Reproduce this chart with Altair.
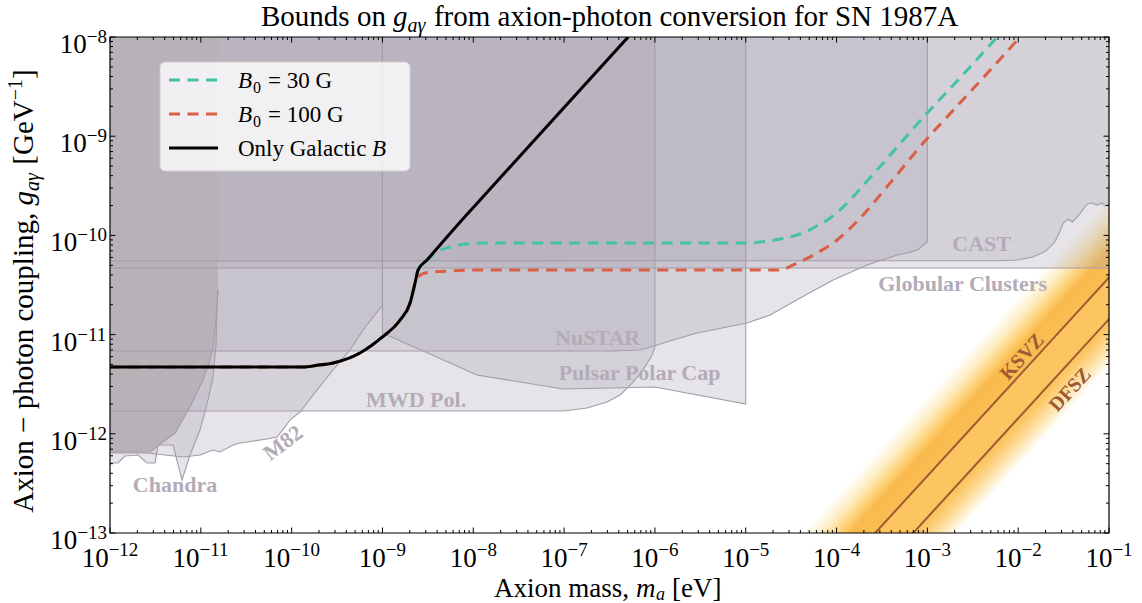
import altair as alt
import numpy as np
import pandas as pd

FONT = "Liberation Serif"
W, H = 999, 496          # plot area (pixels)
OX, OY = 110, 37         # plot-area origin on the canvas

# ---------------------------------------------------------------------------
# SN 1987A conversion limits, stored as log10(m_a / eV) and log10(g / GeV^-1)
gal_lm = [-12.0, -9.874, -9.72, -9.544, -9.247, -9.0, -8.806, -8.696, -8.641, -8.608,
          -8.509, -8.366, -8.222, -7.925, -6.295]
gal_lg = [-11.327, -11.327, -11.31, -11.286, -11.185, -11.024, -10.853, -10.681, -10.480, -10.349,
          -10.248, -10.097, -9.946, -9.643, -8.0]

b30_lm = [-12.0, -9.874, -9.72, -9.544, -9.247, -9.0, -8.806, -8.696, -8.641, -8.608, -8.509,
          -8.399, -8.256, -8.068, -7.925, -4.952, -4.841, -4.621, -4.401, -4.236, -4.070,
          -3.850, -3.663, -3.410, -3.002, -2.672, -2.231]
b30_lg = [-11.327, -11.327, -11.31, -11.286, -11.185, -11.024, -10.853, -10.681, -10.480, -10.349, -10.248,
          -10.167, -10.117, -10.087, -10.077, -10.077, -10.067, -10.036, -9.986, -9.915, -9.825,
          -9.643, -9.452, -9.190, -8.766, -8.444, -8.0]

b100_lm = [-12.0, -9.874, -9.72, -9.544, -9.247, -9.0, -8.806, -8.696, -8.641, -8.597, -8.531,
           -8.443, -8.256, -7.925, -4.621, -4.478, -4.214, -3.993, -3.740, -3.410, -3.046,
           -2.672, -2.308, -1.978]
b100_lg = [-11.327, -11.327, -11.31, -11.286, -11.185, -11.024, -10.853, -10.681, -10.480, -10.409, -10.379,
           -10.369, -10.359, -10.349, -10.349, -10.298, -10.177, -10.046, -9.825, -9.472, -9.069,
           -8.696, -8.333, -8.0]

# ---------------------------------------------------------------------------
# Existing bounds (lower edges of the excluded regions)
regions = {
    "gc": dict(lm=[-12.0, -1.0], lg=[-10.329, -10.329], left=False, right=False),
    "cast": dict(lm=[-12.0, -2.2, -2.011, -1.835, -1.70, -1.60, -1.54, -1.504, -1.449, -1.405,
                     -1.35, -1.24, -1.185, -1.13, -1.075, -1.042, -1.0],
                 lg=[-10.258, -10.255, -10.248, -10.218, -10.16, -10.07, -9.96, -9.875, -9.835, -9.865,
                     -9.815, -9.683, -9.673, -9.694, -9.673, -9.704, -9.68],
                 left=False, right=False),
    "nustar": dict(lm=[-12.0, -6.46, -6.163, -6.086, -5.976, -5.800, -5.535, -4.985, -4.731,
                       -4.401, -4.037, -3.663, -3.333, -3.222, -3.111, -3.0],
                   lg=[-11.165, -11.165, -11.155, -11.135, -11.105, -11.054, -10.984, -10.883, -10.802,
                       -10.631, -10.450, -10.298, -10.198, -10.177, -10.147, -10.067],
                   left=False, right=True),
    "mwd": dict(lm=[-12.0, -7.011, -6.747, -6.526, -6.383, -6.240, -6.130, -6.031, -6.0],
                lg=[-11.770, -11.770, -11.740, -11.679, -11.609, -11.478, -11.357, -11.206, -11.125],
                left=False, right=True),
    "ppc": dict(lm=[-9.0, -7.958, -7.011, -6.0, -5.0],
                lg=[-10.984, -11.407, -11.548, -11.528, -11.700],
                left=True, right=True),
    "m82": dict(lm=[-12.0, -11.593, -11.196, -11.009, -10.866, -10.789, -10.645, -10.568, -10.491,
                    -10.425, -10.271, -10.161, -10.073, -10.018, -9.907, -9.720, -9.544, -9.357,
                    -9.214, -9.0],
                lg=[-12.194, -12.194, -12.234, -12.214, -12.163, -12.183, -12.113, -12.093, -12.083,
                    -12.073, -12.052, -12.032, -11.931, -11.861, -11.780, -11.558, -11.357, -11.155,
                    -10.954, -10.702],
                left=False, right=True),
    "chandra": dict(lm=[-12.0, -11.912, -11.835, -11.692, -11.593, -11.504, -11.471, -11.306, -11.207,
                        -11.119, -11.009, -10.921, -10.866, -10.833, -10.822, -10.811],
                    lg=[-12.294, -12.294, -12.224, -12.214, -12.294, -12.294, -12.113, -12.113, -12.466,
                        -12.214, -11.962, -11.659, -11.427, -11.105, -10.722, -10.55],
                    left=False, right=False),
}
# low-mass block drawn solid on top of the translucent regions
dark_lm = [-12.0, -11.559, -11.449, -11.284, -11.119, -10.976, -10.899, -10.866, -10.833, -10.811]
dark_lg = [-12.183, -12.183, -12.103, -11.992, -11.730, -11.458, -11.256, -11.125, -10.853, -10.55]

# QCD axion band: offsets of log10(g) - log10(m) and shading
ksvz_off, dfsz_off = -9.425, -9.844
band_stops = [-8.63, -8.85, -9.05, -9.15, -9.40, -9.45, -9.90, -10.05, -10.20, -10.33]
band_colors = ["#ffffff", "#feecc0", "#fdcd6c", "#f9b94b", "#f9bc50", "#fcc45e",
               "#fcc45e", "#fdd68c", "#feecc4", "#ffffff"]

# Region labels: text, log10 m, log10 g
flat_labels = [("CAST", -2.402, -10.087), ("Globular Clusters", -2.611, -10.490),
               ("NuSTAR", -6.631, -11.039), ("Pulsar Polar Cap", -6.169, -11.392),
               ("MWD Pol.", -8.630, -11.659), ("Chandra", -11.284, -12.521)]
m82_label = ("M82", -10.095, -12.093)
qcd_labels = [("KSVZ", -1.956, -11.226), ("DFSZ", -1.427, -11.558)]

x_major_exp = list(range(-12, 0))
y_major_exp = list(range(-13, -7))

# ---------------------------------------------------------------------------
xs = alt.Scale(type="log", domain=[1e-12, 1e-1], nice=False)
ys = alt.Scale(type="log", domain=[1e-13, 1e-8], nice=False)


def xq(f):
    return alt.X(f"{f}:Q", scale=xs, axis=None)


def yq(f):
    return alt.Y(f"{f}:Q", scale=ys, axis=None)


def curve_df(lm, lg):
    return pd.DataFrame({"m": 10 ** np.array(lm), "g": 10 ** np.array(lg), "i": range(len(lm))})


# translucent fills and their outlines
fill_rows, edge_rows = [], []
for name, r in regions.items():
    for a, b in zip(r["lm"], r["lg"]):
        fill_rows.append({"region": name, "m": 10 ** a, "g": 10 ** b, "top": 1e-8})
    pts = list(zip(r["lm"], r["lg"]))
    if r["left"]:
        pts = [(r["lm"][0], -8.0)] + pts
    if r["right"]:
        pts = pts + [(r["lm"][-1], -8.0)]
    for k, (a, b) in enumerate(pts):
        edge_rows.append({"region": name, "i": k, "m": 10 ** a, "g": 10 ** b})
for k, (a, b) in enumerate(zip(dark_lm, dark_lg)):
    edge_rows.append({"region": "dark", "i": k, "m": 10 ** a, "g": 10 ** b})
fill_df = pd.DataFrame(fill_rows)
edge_df = pd.DataFrame(edge_rows)
dark_df = pd.DataFrame({"m": 10 ** np.array(dark_lm), "g": 10 ** np.array(dark_lg), "top": 1e-8})


# QCD band as thin shaded strips
def hex2rgb(h):
    return [int(h[i:i + 2], 16) for i in (1, 3, 5)]


band_rows, sid = [], 0
for (o1, c1), (o2, c2) in zip(zip(band_stops, band_colors), zip(band_stops[1:], band_colors[1:])):
    n = max(1, int(round((o1 - o2) / 0.015)))
    for k in range(n):
        t = (k + 0.5) / n
        hi = o1 + (o2 - o1) * k / n
        lo = o1 + (o2 - o1) * (k + 1) / n
        rgb = [round(p + (q - p) * t) for p, q in zip(hex2rgb(c1), hex2rgb(c2))]
        col = "#%02x%02x%02x" % tuple(rgb)
        for lm in (-5.5, -0.9):
            band_rows.append({"strip": sid, "c": col, "m": 10 ** lm,
                              "g": 10 ** (lm + lo - 0.004), "g2": 10 ** (lm + hi + 0.004)})
        sid += 1
band_df = pd.DataFrame(band_rows)

qcd_rows = []
for model, off in (("KSVZ", ksvz_off), ("DFSZ", dfsz_off)):
    for lm in (-5.5, -0.9):
        qcd_rows.append({"model": model, "m": 10 ** lm, "g": 10 ** (lm + off)})
qcd_df = pd.DataFrame(qcd_rows)

layers = []
layers.append(alt.Chart(band_df).mark_area(clip=True, strokeWidth=0).encode(
    x=xq("m"), y=yq("g"), y2="g2:Q", color=alt.Color("c:N", scale=None), detail="strip:N"))
layers.append(alt.Chart(qcd_df).mark_line(clip=True, color="#9d5a32", strokeWidth=2).encode(
    x=xq("m"), y=yq("g"), detail="model:N"))
layers.append(alt.Chart(fill_df).mark_area(clip=True, color="#aca5b2", opacity=0.3).encode(
    x=xq("m"), y=yq("g"), y2="top:Q", detail="region:N"))
layers.append(alt.Chart(dark_df).mark_area(clip=True, color="#b7b1b8", opacity=1).encode(
    x=xq("m"), y=yq("g"), y2="top:Q"))
layers.append(alt.Chart(edge_df).mark_line(clip=True, color="#a39cab", strokeWidth=1.1).encode(
    x=xq("m"), y=yq("g"), detail="region:N", order="i:Q"))

# region labels
lab_df = pd.DataFrame([{"t": t, "m": 10 ** a, "g": 10 ** b} for t, a, b in flat_labels])
label_style = dict(font=FONT, fontWeight="bold", fontSize=22, color="#b3acb8",
                   align="center", baseline="middle")
layers.append(alt.Chart(lab_df).mark_text(**label_style).encode(x=xq("m"), y=yq("g"), text="t:N"))
m82_df = pd.DataFrame([{"t": m82_label[0], "m": 10 ** m82_label[1], "g": 10 ** m82_label[2]}])
layers.append(alt.Chart(m82_df).mark_text(angle=323, **label_style).encode(
    x=xq("m"), y=yq("g"), text="t:N"))
qlab_df = pd.DataFrame([{"t": t, "m": 10 ** a, "g": 10 ** b} for t, a, b in qcd_labels])
layers.append(alt.Chart(qlab_df).mark_text(angle=312.5, font=FONT, fontWeight="bold", fontSize=20,
                                           color="#9d5a32", align="center", baseline="middle").encode(
    x=xq("m"), y=yq("g"), text="t:N"))

# limit curves
dash = [11, 7.5]
layers.append(alt.Chart(curve_df(b30_lm, b30_lg)).mark_line(
    clip=True, color="#43c2aa", strokeWidth=3, strokeDash=dash, interpolate="monotone").encode(
    x=xq("m"), y=yq("g"), order="i:Q"))
layers.append(alt.Chart(curve_df(b100_lm, b100_lg)).mark_line(
    clip=True, color="#d95f46", strokeWidth=3, strokeDash=dash, interpolate="monotone").encode(
    x=xq("m"), y=yq("g"), order="i:Q"))
layers.append(alt.Chart(curve_df(gal_lm, gal_lg)).mark_line(
    clip=True, color="black", strokeWidth=3, interpolate="monotone").encode(
    x=xq("m"), y=yq("g"), order="i:Q"))

# ---------------------------------------------------------------------------
# frame and inward ticks on all four sides
xt_major = pd.DataFrame({"v": [10.0 ** e for e in x_major_exp]})
xt_minor = pd.DataFrame({"v": [k * 10.0 ** e for e in x_major_exp[:-1] for k in range(2, 10)]})
yt_major = pd.DataFrame({"v": [10.0 ** e for e in y_major_exp]})
yt_minor = pd.DataFrame({"v": [k * 10.0 ** e for e in y_major_exp[:-1] for k in range(2, 10)]})
for df, ln in ((xt_major, 5.5), (xt_minor, 3)):
    layers.append(alt.Chart(df).mark_rule(color="black", strokeWidth=1).encode(
        x=xq("v"), y=alt.value(H), y2=alt.value(H - ln)))
    layers.append(alt.Chart(df).mark_rule(color="black", strokeWidth=1).encode(
        x=xq("v"), y=alt.value(0), y2=alt.value(ln)))
for df, ln in ((yt_major, 5.5), (yt_minor, 3)):
    layers.append(alt.Chart(df).mark_rule(color="black", strokeWidth=1).encode(
        y=yq("v"), x=alt.value(0), x2=alt.value(ln)))
    layers.append(alt.Chart(df).mark_rule(color="black", strokeWidth=1).encode(
        y=yq("v"), x=alt.value(W), x2=alt.value(W - ln)))
one = pd.DataFrame({"k": [0]})
layers.append(alt.Chart(one).mark_rect(filled=False, stroke="black", strokeWidth=1.2).encode(
    x=alt.value(0), x2=alt.value(W), y=alt.value(0), y2=alt.value(H)))

# tick labels "10" with a raised exponent
BASE_FS, EXP_FS = 27, 19


def exp_df(exps):
    return pd.DataFrame({"v": [10.0 ** e for e in exps], "b": "10",
                         "e": ["\u2212" + str(abs(e)) for e in exps]})


x_two = [e for e in x_major_exp if e <= -10]
x_one = [e for e in x_major_exp if e > -10]
for exps, dx in ((x_two, -1.35), (x_one, 3.4)):
    d = exp_df(exps)
    layers.append(alt.Chart(d).mark_text(font=FONT, fontSize=BASE_FS, align="right", dx=dx).encode(
        x=xq("v"), y=alt.value(559 - OY), text="b:N"))
    layers.append(alt.Chart(d).mark_text(font=FONT, fontSize=EXP_FS, align="left", dx=dx).encode(
        x=xq("v"), y=alt.value(550 - OY), text="e:N"))
y_two = [e for e in y_major_exp if e <= -10]
y_one = [e for e in y_major_exp if e > -10]
for exps, xr in ((y_two, 107 - 29.7), (y_one, 107 - 20.2)):
    d = exp_df(exps)
    layers.append(alt.Chart(d).mark_text(font=FONT, fontSize=BASE_FS, align="right", dy=8).encode(
        y=yq("v"), x=alt.value(xr - OX), text="b:N"))
    layers.append(alt.Chart(d).mark_text(font=FONT, fontSize=EXP_FS, align="left", dy=0).encode(
        y=yq("v"), x=alt.value(xr - OX), text="e:N"))


def ptext(txt, x, y, size, style="normal", weight="normal", align="left", angle=None,
          dx=0, dy=0, color="black"):
    kw = dict(text=txt, font=FONT, fontSize=size, fontStyle=style, fontWeight=weight,
              align=align, baseline="alphabetic", color=color, dx=dx, dy=dy)
    if angle is not None:
        kw["angle"] = angle
    return alt.Chart(one).mark_text(**kw).encode(x=alt.value(x - OX), y=alt.value(y - OY))


# title
layers += [
    ptext("Bounds on", 261, 26, 29),
    ptext("g", 393.1, 26, 29, style="italic"),
    ptext("a\u03b3", 407.6, 32, 20, style="italic"),
    ptext("from axion-photon conversion for SN 1987A", 433.9, 26, 29),
]
# x-axis title
xt0 = 494
layers += [
    ptext("Axion mass,", xt0, 597, 27),
    ptext("m", xt0 + 142, 597, 27, style="italic"),
    ptext("a", xt0 + 162, 599.5, 18, style="italic"),
    ptext("[eV]", xt0 + 178, 597, 27),
]
# y-axis title (rotated, reading upwards)
yx, yb = 33, 512.7
layers += [
    ptext("Axion \u2212 photon coupling,", yx, yb, 29, angle=270),
    ptext("g", yx, yb, 29, style="italic", angle=270, dx=307.2),
    ptext("a\u03b3", yx, yb, 20, style="italic", angle=270, dx=321.7, dy=6),
    ptext("[GeV", yx, yb, 29, angle=270, dx=348),
    ptext("\u22121", yx, yb, 20, angle=270, dx=412.4, dy=-11),
    ptext("]", yx, yb, 29, angle=270, dx=433.7),
]

# legend
layers.append(alt.Chart(one).mark_rect(cornerRadius=5, fill="white", fillOpacity=0.8,
                                       stroke="#cfcfcf", strokeWidth=1).encode(
    x=alt.value(160 - OX), x2=alt.value(410 - OX), y=alt.value(62 - OY), y2=alt.value(171 - OY)))
for yrow, col, dsh in ((80, "#43c2aa", dash), (114, "#d95f46", dash), (148, "black", None)):
    kw = dict(color=col, strokeWidth=3)
    if dsh:
        kw["strokeDash"] = dsh
    layers.append(alt.Chart(one).mark_rule(**kw).encode(
        x=alt.value(169 - OX), x2=alt.value(218 - OX), y=alt.value(yrow - OY)))
LFS = 23
layers += [
    ptext("B", 238, 88, LFS, style="italic"),
    ptext("0", 253, 93, 16),
    ptext("= 30 G", 268, 88, LFS),
    ptext("B", 238, 122, LFS, style="italic"),
    ptext("0", 253, 127, 16),
    ptext("= 100 G", 268, 122, LFS),
    ptext("Only Galactic", 238, 156, LFS),
    ptext("B", 372, 156, LFS, style="italic"),
]

chart = alt.layer(*layers).properties(
    width=W, height=H,
    padding={"left": OX, "top": OY, "right": 1142 - OX - W, "bottom": 603 - OY - H},
    autosize=alt.AutoSizeParams(type="none"),
    background="white",
).configure_view(stroke=None)

chart.save("out.html", embed_options={"renderer": "svg", "actions": False})
